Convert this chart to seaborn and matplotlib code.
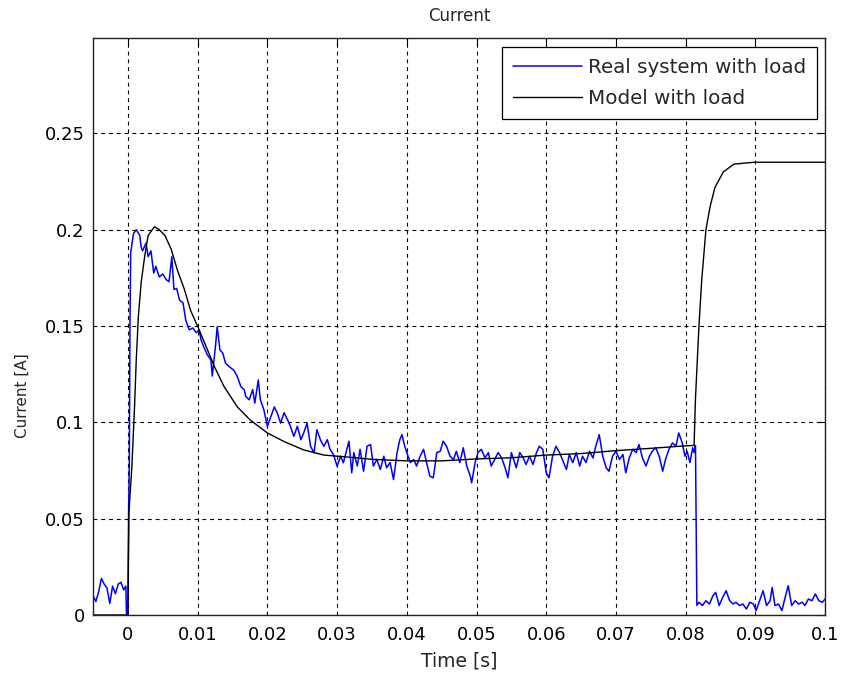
import numpy as np
import pandas as pd
import matplotlib
matplotlib.use("Agg")
import matplotlib.pyplot as plt
import seaborn as sns

# Measured current of the real system (time [s], current [A])
real_t = [
    -0.0050, -0.0046, -0.0042, -0.0038, -0.0034, -0.0030, -0.0026, -0.0022, -0.0018, -0.0014,
    -0.0010, -0.0006, -0.0003, -0.0002,
    0.0000, 0.0001, 0.0002, 0.0003, 0.0004, 0.0008, 0.0012, 0.0017, 0.0019, 0.0021,
    0.0026, 0.0029, 0.0033, 0.0037, 0.0040, 0.0045, 0.0050, 0.0055, 0.0059, 0.0063,
    0.0066, 0.0070, 0.0074, 0.0079, 0.0083, 0.0088, 0.0093, 0.0098, 0.0102,
    0.0105, 0.0109, 0.0114, 0.0119, 0.0121, 0.0126, 0.0128, 0.0132, 0.0136, 0.0140,
    0.0145, 0.0152, 0.0157, 0.0162, 0.0167, 0.0169, 0.0174, 0.0179, 0.0182, 0.0187,
    0.0190, 0.0195, 0.0200, 0.0205, 0.0210, 0.0214, 0.0219, 0.0224, 0.0229, 0.0233,
    0.0238, 0.0243, 0.0248, 0.0252, 0.0257, 0.0262, 0.0267, 0.0271, 0.0276, 0.0281,
    0.0286, 0.0290, 0.0295, 0.0300, 0.0305, 0.0309,
    0.0317, 0.0321, 0.0324, 0.0329, 0.0333, 0.0338, 0.0343, 0.0348, 0.0352, 0.0357,
    0.0362, 0.0367, 0.0371, 0.0376, 0.0381, 0.0386, 0.0390, 0.0393, 0.0397, 0.0400,
    0.0405, 0.0410, 0.0414, 0.0419, 0.0424, 0.0429, 0.0433, 0.0438, 0.0443, 0.0448,
    0.0452, 0.0457, 0.0462, 0.0467, 0.0471, 0.0476, 0.0481, 0.0486, 0.0491, 0.0493,
    0.0498, 0.0502, 0.0507, 0.0512, 0.0517, 0.0521, 0.0526, 0.0531, 0.0536, 0.0541,
    0.0545, 0.0550,
    0.0557, 0.0562, 0.0567, 0.0571, 0.0576, 0.0581, 0.0586, 0.0590, 0.0595, 0.0600,
    0.0604, 0.0609, 0.0614, 0.0619, 0.0624, 0.0629, 0.0633, 0.0638, 0.0643, 0.0648,
    0.0652, 0.0657, 0.0662, 0.0667, 0.0671, 0.0676, 0.0681, 0.0686, 0.0690, 0.0695,
    0.0700, 0.0705, 0.0710, 0.0714, 0.0719, 0.0724, 0.0729, 0.0733, 0.0738, 0.0743,
    0.0748, 0.0752, 0.0757, 0.0762, 0.0767, 0.0771, 0.0776, 0.0781, 0.0786, 0.0790,
    0.0795, 0.0799, 0.0802, 0.0806, 0.0810, 0.0812, 0.0814, 0.0815, 0.0816,
    0.0819, 0.0824, 0.0829, 0.0834, 0.0839, 0.0843, 0.0848, 0.0853, 0.0858, 0.0863,
    0.0868, 0.0872, 0.0877, 0.0882, 0.0887, 0.0892, 0.0897, 0.0901, 0.0906, 0.0911,
    0.0916, 0.0921, 0.0924, 0.0928, 0.0933, 0.0938, 0.0942, 0.0947, 0.0952, 0.0957,
    0.0962, 0.0967, 0.0971, 0.0976, 0.0981, 0.0986, 0.0991, 0.0996, 0.1000,
]
real_i = [
    0.010, 0.007, 0.012, 0.019, 0.016, 0.014, 0.006, 0.015, 0.011, 0.016,
    0.017, 0.013, 0.015, 0.000,
    0.000, 0.053, 0.077, 0.153, 0.188, 0.198, 0.200, 0.197, 0.191, 0.189,
    0.193, 0.186, 0.189, 0.1775, 0.181, 0.1755, 0.177, 0.174, 0.173, 0.186,
    0.169, 0.1695, 0.1635, 0.162, 0.153, 0.148, 0.149, 0.1465, 0.148,
    0.1427, 0.139, 0.135, 0.1324, 0.124, 0.141, 0.1496, 0.1375, 0.136, 0.1307,
    0.129, 0.127, 0.1237, 0.1185, 0.1169, 0.1134, 0.1117, 0.117, 0.110, 0.122,
    0.1117, 0.1065, 0.0979, 0.103, 0.108, 0.105, 0.0996, 0.105, 0.1013, 0.098,
    0.0927, 0.098, 0.091, 0.0944, 0.0996, 0.0875, 0.0841, 0.0962, 0.091, 0.0875,
    0.091, 0.0858, 0.0832, 0.0772, 0.0824, 0.079,
    0.0902, 0.0738, 0.0843, 0.0773, 0.0860, 0.0746, 0.0876, 0.0885, 0.0773, 0.0807,
    0.0755, 0.0824, 0.0764, 0.0791, 0.0703, 0.0843, 0.0910, 0.0936, 0.0876, 0.0843,
    0.0791, 0.0807, 0.0773, 0.0824, 0.0860, 0.0781, 0.0721, 0.0712, 0.0843, 0.0850,
    0.0902, 0.0876, 0.0824, 0.0807, 0.0850, 0.0791, 0.0868, 0.0773, 0.0721, 0.0686,
    0.0791, 0.0843, 0.0860, 0.0815, 0.0843, 0.0773, 0.0807, 0.0843, 0.0815, 0.0764,
    0.0712, 0.0843,
    0.0764, 0.0843, 0.0815, 0.0781, 0.0824, 0.0781, 0.0843, 0.0876, 0.0860, 0.0738,
    0.0712, 0.0824, 0.0876, 0.0843, 0.0799, 0.0755, 0.0833, 0.0791, 0.0843, 0.0773,
    0.0824, 0.0791, 0.0850, 0.0815, 0.0876, 0.0936, 0.0824, 0.0764, 0.0746, 0.0824,
    0.0850, 0.0807, 0.0833, 0.0738, 0.0815, 0.0860, 0.0843, 0.0885, 0.0815, 0.0773,
    0.0824, 0.0850, 0.0868, 0.0824, 0.0746, 0.0807, 0.0860, 0.0893, 0.0876, 0.0945,
    0.0893, 0.0824, 0.0850, 0.0791, 0.0868, 0.0843, 0.0880, 0.045, 0.005,
    0.0066, 0.0049, 0.0074, 0.0057, 0.0100, 0.0117, 0.0049, 0.0091, 0.0126, 0.0074,
    0.0057, 0.0066, 0.0049, 0.0057, 0.0031, 0.0066, 0.0057, 0.0023, 0.0074, 0.0126,
    0.0049, 0.0074, 0.0143, 0.0049, 0.0057, 0.0023, 0.0083, 0.0152, 0.0049, 0.0074,
    0.0057, 0.0066, 0.0049, 0.0083, 0.0074, 0.0109, 0.0074, 0.0066, 0.0083,
]

# Simulated current of the model (time [s], current [A])
model_t = [
    -0.005, 0.0, 0.00014, 0.00057, 0.00095, 0.0012, 0.0015, 0.0019, 0.0024, 0.0029,
    0.0038, 0.0045, 0.0053, 0.0062, 0.0071, 0.0081, 0.0090, 0.0101, 0.0112, 0.0124,
    0.0138, 0.0157, 0.0176, 0.0200, 0.0224, 0.0252, 0.0281, 0.0305, 0.035, 0.040,
    0.045, 0.050, 0.055, 0.060, 0.065, 0.070, 0.075, 0.080, 0.0812, 0.0814,
    0.0819, 0.0823, 0.0829, 0.0835, 0.0842, 0.0854, 0.0869, 0.0898, 0.1,
]
model_i = [
    0.0, 0.0, 0.053, 0.077, 0.108, 0.1325, 0.155, 0.1725, 0.186, 0.197,
    0.2015, 0.200, 0.197, 0.190, 0.179, 0.169, 0.158, 0.149, 0.1395, 0.129,
    0.1185, 0.108, 0.101, 0.0945, 0.090, 0.0857, 0.083, 0.0823, 0.0808, 0.0800,
    0.0800, 0.081, 0.0816, 0.083, 0.0838, 0.0853, 0.0865, 0.0878, 0.088, 0.1123,
    0.150, 0.174, 0.200, 0.212, 0.222, 0.230, 0.234, 0.235, 0.235,
]

x_ticks = [0, 0.01, 0.02, 0.03, 0.04, 0.05, 0.06, 0.07, 0.08, 0.09, 0.1]
x_tick_labels = ["0", "0.01", "0.02", "0.03", "0.04", "0.05", "0.06", "0.07", "0.08", "0.09", "0.1"]
y_ticks = [0, 0.05, 0.1, 0.15, 0.2, 0.25]
y_tick_labels = ["0", "0.05", "0.1", "0.15", "0.2", "0.25"]

sns.set_theme(style="white")
plt.rcParams["font.family"] = ["DejaVu Sans"]

real_df = pd.DataFrame({"t": real_t, "i": real_i})
model_df = pd.DataFrame({"t": model_t, "i": model_i})

fig = plt.figure(figsize=(8.42, 6.77), dpi=100)
ax = fig.add_axes([0.1105, 0.0916, 0.8695, 0.8523])

sns.lineplot(data=real_df, x="t", y="i", ax=ax, color="#0000ff", lw=1.1,
             estimator=None, sort=False, label="Real system with load")
sns.lineplot(data=model_df, x="t", y="i", ax=ax, color="black", lw=1.0,
             estimator=None, sort=False, label="Model with load")

ax.set_xlim(-0.005, 0.1)
ax.set_ylim(0, 0.2995)
ax.set_xticks(x_ticks)
ax.set_xticklabels(x_tick_labels)
ax.set_yticks(y_ticks)
ax.set_yticklabels(y_tick_labels)

ax.grid(True, color="black", linestyle=(0, (3.5, 3.5)), linewidth=0.8)
ax.set_axisbelow(True)
for s in ax.spines.values():
    s.set_color("#222222")
    s.set_linewidth(1.0)
ax.tick_params(direction="in", length=5, width=0.8, top=True, right=True,
               labelsize=13, colors="black")
ax.tick_params(axis="x", pad=8)
ax.tick_params(axis="y", pad=6)

ax.set_title("Current", fontsize=12, pad=12)
ax.set_xlabel("Time [s]", fontsize=13.5, labelpad=5)
ax.set_ylabel("Current [A]", fontsize=11)
ax.yaxis.set_label_coords(-0.086, 0.38)

leg = ax.legend(loc="upper right", bbox_to_anchor=(0.989, 0.984), fontsize=14.3,
                frameon=True, fancybox=False, edgecolor="black", framealpha=1,
                handlelength=3.5, labelspacing=0.6, borderpad=0.55,
                handletextpad=0.3, borderaxespad=0.0)
leg.get_frame().set_linewidth(0.9)

fig.savefig("out.png", dpi=100)
